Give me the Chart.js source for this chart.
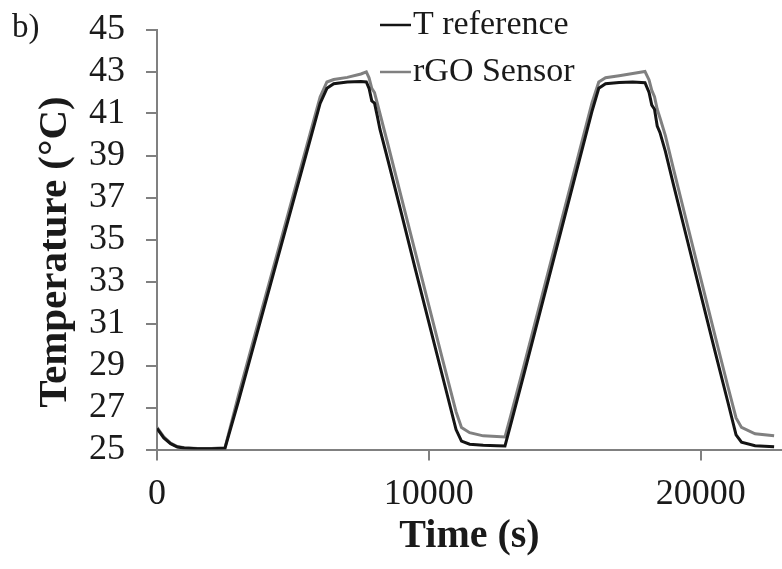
<!DOCTYPE html>
<html>
<head>
<meta charset="utf-8">
<script src="https://cdn.jsdelivr.net/npm/chart.js@4/dist/chart.umd.min.js"></script>
<style>
  html, body { margin: 0; padding: 0; background: #fff; }
  #wrap { width: 782px; height: 569px; position: relative; }
</style>
</head>
<body>
<div id="wrap"><canvas id="c" width="782" height="569"></canvas></div>
<script>
const panelLabel = 'b)';
const xTitle = 'Time (s)';
const yTitle = 'Temperature (°C)';
const seriesNames = ['T reference', 'rGO Sensor'];
const xTickValues = [0, 10000, 20000];
const yTickValues = [25, 27, 29, 31, 33, 35, 37, 39, 41, 43, 45];

const times = [
  0, 250, 500, 750, 1000, 1500, 2000, 2500,
  3000, 3500, 4000, 4500, 5000, 5500, 6000, 6250, 6500, 7000, 7500, 7700,
  7800, 7900, 8000, 8100, 8200, 8500, 9000, 9500, 10000, 10500, 11000, 11200, 11500, 12000, 12500, 12800,
  13000, 13500, 14000, 14500, 15000, 15500, 16000, 16250, 16500, 17000, 17500, 17950,
  18100, 18200, 18300, 18400, 18500, 18700, 19000, 19500, 20000, 20500, 21000, 21300, 21500, 22000, 22700
];

const refTemp = [
  26.0, 25.55, 25.28, 25.12, 25.07, 25.04, 25.04, 25.06,
  27.32, 29.68, 32.04, 34.4, 36.76, 39.12, 41.48, 42.2, 42.42, 42.5, 42.52, 42.5,
  42.2, 41.6, 41.5, 40.9, 40.25, 38.75, 36.2, 33.6, 31.05, 28.5, 25.95, 25.4, 25.25, 25.2, 25.18, 25.17,
  26.14, 28.6, 31.1, 33.6, 36.1, 38.6, 41.1, 42.2, 42.42, 42.48, 42.5, 42.47,
  42.0, 41.4, 41.2, 40.4, 40.1, 39.2, 37.6, 35.0, 32.4, 29.8, 27.25, 25.7, 25.35, 25.18, 25.13
];

const rgoTemp = [
  26.05, 25.6, 25.3, 25.14, 25.08, 25.05, 25.05, 25.08,
  27.6, 29.98, 32.34, 34.7, 37.06, 39.42, 41.78, 42.5, 42.62, 42.72, 42.88, 42.98,
  42.7, 42.2, 42.0, 41.5, 41.0, 39.5, 36.95, 34.4, 31.85, 29.3, 26.8, 26.05, 25.8, 25.65, 25.62, 25.6,
  26.55, 29.0, 31.5, 34.0, 36.5, 39.0, 41.5, 42.5, 42.7, 42.8, 42.9, 43.0,
  42.6, 42.1, 41.8, 41.2, 40.8, 39.95, 38.35, 35.75, 33.15, 30.55, 28.0, 26.5, 26.05, 25.75, 25.65
];

const serif = '"Liberation Serif", "Times New Roman", serif';
const axisGrey = '#808080';
const textColor = '#1a1a1a';

const annotations = {
  id: 'annotations',
  afterDraw(chart) {
    const ctx = chart.ctx;
    ctx.save();
    // legend
    ctx.font = '34px ' + serif;
    ctx.textBaseline = 'middle';
    ctx.textAlign = 'left';
    chart.data.datasets.forEach((ds, i) => {
      const y = 25 + i * 47;
      ctx.strokeStyle = ds.borderColor;
      ctx.lineWidth = 2.5;
      ctx.beginPath();
      ctx.moveTo(380, y);
      ctx.lineTo(411, y);
      ctx.stroke();
      ctx.fillStyle = textColor;
      ctx.fillText(ds.label, 413, y);
    });
    // panel label
    ctx.font = '33px ' + serif;
    ctx.fillStyle = textColor;
    ctx.fillText(panelLabel, 12, 28);
    // y axis title
    ctx.font = 'bold 41px ' + serif;
    ctx.textAlign = 'center';
    ctx.translate(55, 252);
    ctx.rotate(-Math.PI / 2);
    ctx.fillText(yTitle, 0, 0);
    ctx.restore();
  }
};

new Chart(document.getElementById('c'), {
  type: 'line',
  data: {
    datasets: [
      {
        label: seriesNames[0],
        data: times.map((t, i) => ({ x: t, y: refTemp[i] })),
        borderColor: '#141414',
        borderWidth: 3,
        pointRadius: 0,
        tension: 0,
        fill: false
      },
      {
        label: seriesNames[1],
        data: times.map((t, i) => ({ x: t, y: rgoTemp[i] })),
        borderColor: '#808080',
        borderWidth: 3,
        pointRadius: 0,
        tension: 0,
        fill: false
      }
    ]
  },
  options: {
    responsive: false,
    animation: false,
    devicePixelRatio: 1,
    layout: { padding: { top: 29.5, right: 0, left: 0, bottom: 0 } },
    plugins: { legend: { display: false }, tooltip: { enabled: false } },
    scales: {
      x: {
        type: 'linear',
        min: 0,
        max: 22990,
        afterBuildTicks: s => { s.ticks = xTickValues.map(v => ({ value: v })); },
        afterFit: s => { s.height = 119.5; s.paddingLeft = 0; s.paddingRight = 0; },
        grid: { drawOnChartArea: false, drawTicks: true, tickLength: 11, color: axisGrey, lineWidth: 2 },
        border: { display: true, color: axisGrey, width: 2 },
        ticks: { color: textColor, font: { family: serif, size: 36 }, padding: 12, maxRotation: 0, autoSkip: false, callback: v => String(v) },
        title: { display: true, text: xTitle, color: textColor, font: { family: serif, size: 40, weight: 'bold' }, padding: { top: 0, bottom: 8 } }
      },
      y: {
        type: 'linear',
        min: 25,
        max: 45,
        afterBuildTicks: s => { s.ticks = yTickValues.map(v => ({ value: v })); },
        afterFit: s => { s.width = 157; s.paddingTop = 0; s.paddingBottom = 0; },
        grid: { drawOnChartArea: false, drawTicks: true, tickLength: 11, color: axisGrey, lineWidth: 2 },
        border: { display: true, color: axisGrey, width: 2 },
        ticks: { color: textColor, font: { family: serif, size: 36 }, padding: 21, autoSkip: false, callback: v => String(v) },
        title: { display: false }
      }
    }
  },
  plugins: [annotations]
});
</script>
</body>
</html>
